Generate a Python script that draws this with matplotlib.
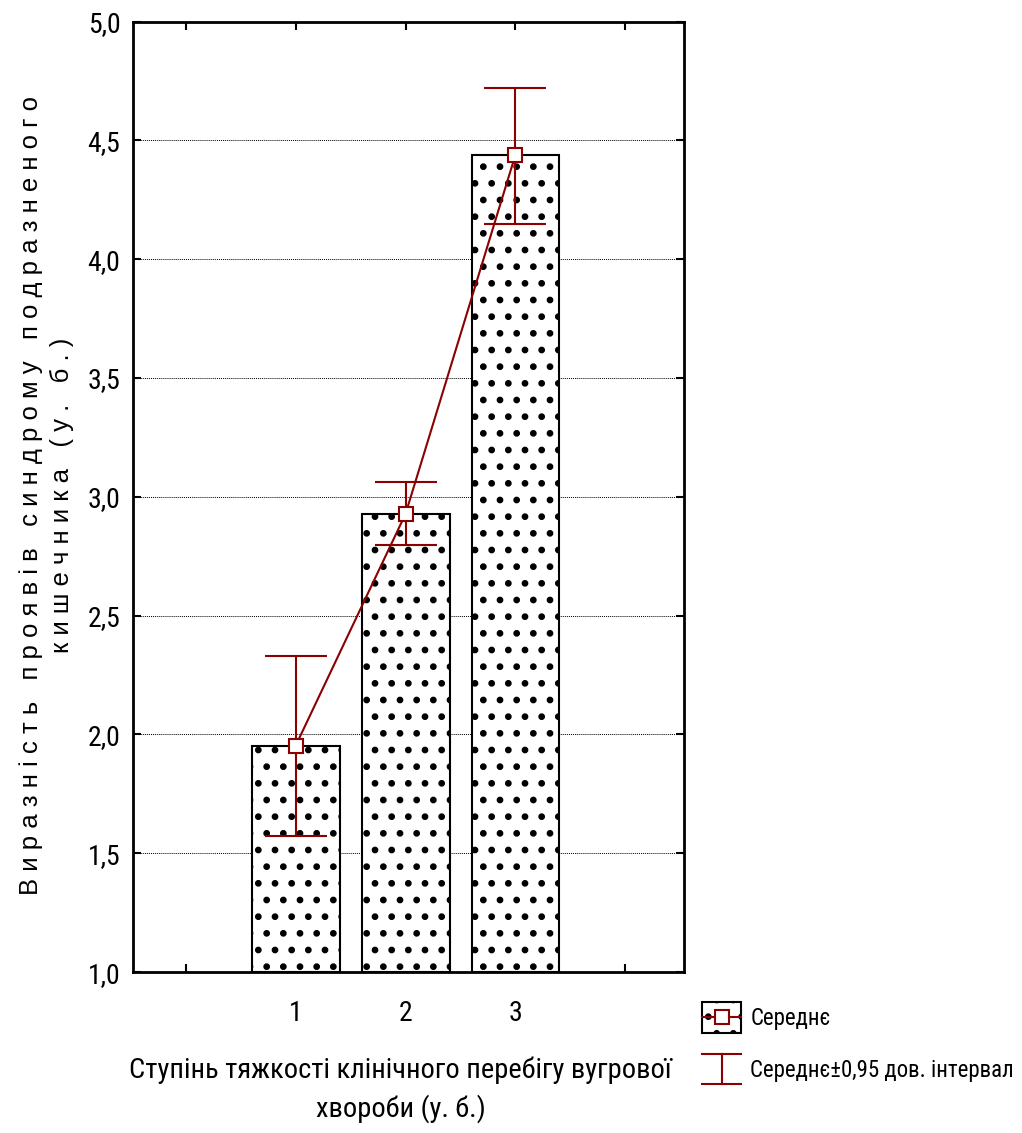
import numpy as np
import matplotlib.pyplot as plt
from matplotlib.lines import Line2D
from matplotlib.patches import Rectangle
from matplotlib.legend_handler import HandlerBase

narrow = ['Roboto Condensed', 'PT Sans Narrow', 'DejaVu Sans']
plt.rcParams['font.family'] = narrow
plt.rcParams['hatch.linewidth'] = 2.4

groups = [1, 2, 3]
means = [1.952, 2.928, 4.44]
ci_low = [1.573, 2.798, 4.149]
ci_high = [2.331, 3.063, 4.722]
y_ticks = [1.0, 1.5, 2.0, 2.5, 3.0, 3.5, 4.0, 4.5, 5.0]

red = '#8b0000'


class MeanHandler(HandlerBase):
    # hatched box with the red line and square marker across it
    def create_artists(self, legend, orig, xd, yd, w, h, fontsize, trans):
        box = Rectangle((xd, yd - 0.45 * h), w, 1.9 * h, facecolor='white',
                        edgecolor='black', hatch='.', linewidth=1.5, transform=trans)
        ln = Line2D([xd, xd + w], [yd + h / 2, yd + h / 2], color=red, linewidth=1.5,
                    transform=trans)
        mk = Line2D([xd + w / 2], [yd + h / 2], marker='s', markersize=10,
                    markerfacecolor='white', markeredgecolor=red, markeredgewidth=1.5,
                    linestyle='none', transform=trans)
        return [box, ln, mk]


class CIHandler(HandlerBase):
    def create_artists(self, legend, orig, xd, yd, w, h, fontsize, trans):
        y0, y1 = yd - 0.45 * h, yd + 1.45 * h
        arts = [Line2D([xd + w / 2, xd + w / 2], [y0, y1]),
                Line2D([xd, xd + w], [y0, y0]),
                Line2D([xd, xd + w], [y1, y1])]
        for a in arts:
            a.set_color(red)
            a.set_linewidth(1.5)
            a.set_transform(trans)
        return arts


fig = plt.figure(figsize=(10.22, 11.33), dpi=100)
ax = fig.add_axes([0.130, 0.142, 0.539, 0.839])

ax.bar(groups, [m - 1.0 for m in means], bottom=1.0, width=0.8,
       facecolor='white', edgecolor='black', linewidth=1.5, hatch='.', zorder=2)

yerr = [np.array(means) - np.array(ci_low), np.array(ci_high) - np.array(means)]
ax.errorbar(groups, means, yerr=yerr, fmt='none', ecolor=red, elinewidth=1.5,
            capsize=22, capthick=1.5, zorder=3)
ax.plot(groups, means, color=red, linewidth=1.5, marker='s', markersize=10,
        markerfacecolor='white', markeredgecolor=red, markeredgewidth=1.5, zorder=4)

ax.set_xlim(-0.48, 4.53)
ax.set_ylim(1.0, 5.0)
ax.set_xticks([0, 1, 2, 3, 4])
ax.set_xticklabels(['', '1', '2', '3', ''])
ax.set_yticks(y_ticks)
ax.set_yticklabels([f'{v:.1f}'.replace('.', ',') for v in y_ticks])
ax.tick_params(axis='x', direction='in', length=6, width=1.5, top=True, labelsize=20, pad=20)
ax.tick_params(axis='y', direction='in', length=6, width=1.5, right=True, labelsize=20, pad=9)
ax.grid(axis='y', linestyle=(0, (1, 1)), color='black', linewidth=0.7, zorder=0)
ax.set_axisbelow(True)
for s in ax.spines.values():
    s.set_linewidth(2)

fig.text(0.030, 0.563, ' '.join('Виразність проявів синдрому подразненого'),
         rotation=90, ha='center', va='center', fontsize=18.5,
         family=['Liberation Sans', 'DejaVu Sans'])
fig.text(0.061, 0.563, ' '.join('кишечника (у. б.)'),
         rotation=90, ha='center', va='center', fontsize=18.5,
         family=['Liberation Sans', 'DejaVu Sans'])

fig.text(0.392, 0.038, 'Ступінь тяжкості клінічного перебігу вугрової\nхвороби (у. б.)',
         ha='center', va='center', fontsize=20.5, linespacing=1.45)

fig.legend(['mean', 'ci'], ['Середнє', 'Середнє±0,95 дов. інтервал'],
           handler_map={'mean': MeanHandler(), 'ci': CIHandler()},
           loc='upper left', bbox_to_anchor=(0.678, 0.119), frameon=False,
           fontsize=16.5, handlelength=1.7, handletextpad=0.4, labelspacing=1.25,
           borderaxespad=0)

fig.savefig('out.png', dpi=100)
